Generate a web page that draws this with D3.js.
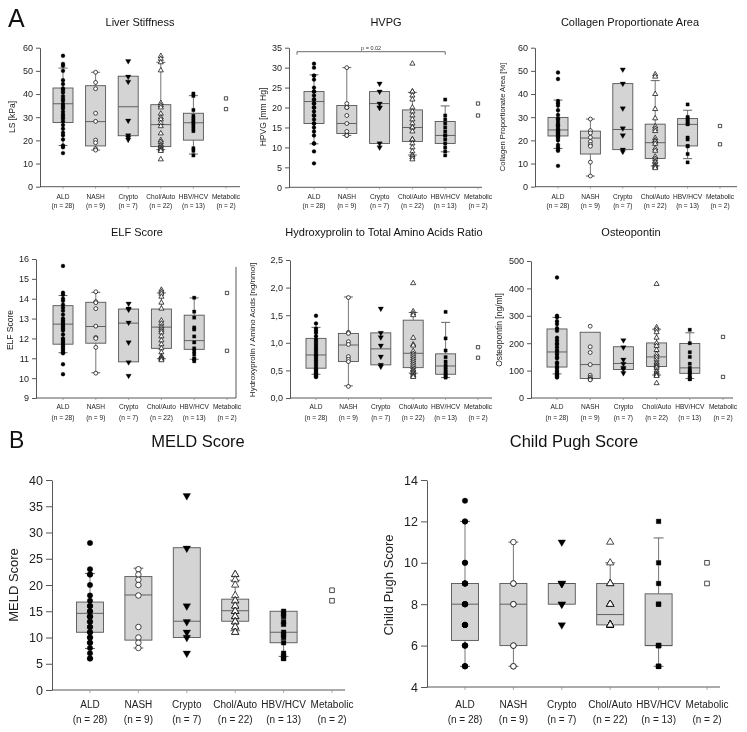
<!DOCTYPE html>
<html><head><meta charset="utf-8">
<script src="https://cdn.jsdelivr.net/npm/d3@7"></script>
<style>body{margin:0;background:#fff}svg{display:block;font-family:"Liberation Sans",Arial,sans-serif;will-change:transform}svg text{-webkit-font-smoothing:antialiased}</style>
</head><body><svg id="c" width="747" height="732"></svg>
<script>
const groups = ["ALD","NASH","Crypto","Chol/Auto","HBV/HCV","Metabolic"];
const groupN = ["(n = 28)","(n = 9)","(n = 7)","(n = 22)","(n = 13)","(n = 2)"];

// ---- Liver stiffness [kPa] ----
const lsPoints = [
  [56.5,53,52.2,50,46,44.3,42.4,41.7,40.7,39.1,38,37.1,35.7,34.7,33.8,32.4,31.2,30.2,29.4,28.2,26.6,25,23.3,22.2,20.4,17.8,17,14.5],
  [49.4,45,42.3,31.7,28.2,20.1,19,16.4,15.8],
  [54.2,47.5,45.3,28.5,22.2,21.2,20.3],
  [56.4,55.2,53.7,50.2,36.1,35.1,34.2,31.5,29.9,29.0,27.5,26.1,23.0,20.1,19.3,18.2,17.5,16.8,16.4,15.9,15.4,11.8],
  [40.2,39.2,33.1,30.6,29.4,28.4,27.5,26.4,25.2,24.0,16.6,15.5,13.5],
  [38.1,33.5]
];
// [q1, median, q3, lower whisker, upper whisker]
const lsBox = [[27.7,35.8,42.6,17.8,51.2],[17.6,28.1,43.6,15.8,49.4],[22.0,34.5,47.7,null,null],[17.3,26.8,35.4,16.0,53.7],[20.1,27.6,31.7,14.1,39.3],null];
const lsTicks = [0,10,20,30,40,50,60];

// ---- HVPG [mm Hg] ----
const hvpgPoints = [
  [31,30,28,28,27,25,24,24,23,22,22,21,21,20,20,19,18,18,17,16,16,15,14,13,11,11,9,6],
  [30,21,20,20,18,16,14,13,13],
  [26,24,21,20,20,11,10],
  [31,24,24,23,22,20,19,18,17,16,15,15,14,12,12,11,10,9,8,8,7.5,7],
  [22,18,17,16,15,14,13,13,12,11,10,9,8],
  [21,18]
];
const hvpgBox = [[16,21.5,24,10.9,28.2],[13.5,16,20.5,13,30],[11,21,24,null,null],[11.5,15,19.4,8.1,23.8],[11,13,16.5,8.9,20.4],null];
const hvpgTicks = [0,5,10,15,20,25,30,35];
const hvpgPvalue = "p = 0.02";

// ---- Collagen proportionate area [%] ----
const cpaPoints = [
  [49.3,46.5,37,36,35,33,31,29.5,29,28,27,26.5,26,25,24.5,24,23.5,23,22.5,22,21.5,21,20,18,17,16,15.5,9],
  [29.2,24.2,23.2,21.3,19.5,18.2,17.5,10.6,4.6],
  [50.6,44.5,33.8,25.2,22.2,16,15.1],
  [48.5,47.5,40,33.5,29.5,26,25,24,21,20,19.5,18.5,16.5,15.5,13,12,11,10.5,9.5,9,8.5,8],
  [35.5,30.1,29.6,28.8,28.1,27.2,26.9,21.2,20.4,17.6,17.4,14.1,10.5],
  [26.2,18.3]
];
const cpaBox = [[21.9,24.5,29.9,16.5,37.4],[14.1,21,24,4.6,29.2],[16,24.7,44.5,null,null],[12.2,19,27,9,45.8],[17.6,26.9,29.4,12.1,33],null];
const cpaTicks = [0,10,20,30,40,50,60];

// ---- ELF score ----
const elfPoints = [
  [15.65,14.3,14.2,14.0,13.9,13.7,13.55,13.4,13.2,13.0,12.9,12.8,12.7,12.6,12.5,12.4,12.2,12.0,11.9,11.8,11.7,11.6,11.5,11.4,11.3,11.25,10.7,10.2],
  [14.35,13.85,13.8,13.5,12.62,12.05,12.0,11.55,10.25],
  [13.75,13.5,13.45,12.8,11.8,10.8,10.12],
  [14.45,14.35,14.25,14.1,13.8,13.5,12.9,12.75,12.6,12.5,12.4,12.3,12.1,11.9,11.7,11.5,11.3,11.1,11.05,11.0,10.95,10.9],
  [14.05,13.35,13.05,12.55,12.45,12.1,11.8,11.5,11.35,11.2,11.0,10.95,10.85],
  [14.29,11.38]
];
const elfBox = [[11.71,12.72,13.65,11.28,14.16],[11.76,12.6,13.82,10.27,14.32],[10.82,12.77,13.48,null,null],[11.5,12.57,13.48,10.98,14.29],[11.45,11.89,13.17,10.95,14.04],null];
const elfTicks = [9,10,11,12,13,14,15,16];

// ---- Hydroxyprolin / amino acids [ng/nmol] ----
const hypPoints = [
  [1.49,1.35,1.26,1.22,1.18,1.12,1.06,1.02,0.98,0.94,0.9,0.86,0.82,0.78,0.76,0.72,0.68,0.64,0.6,0.56,0.52,0.5,0.47,0.45,0.43,0.41,0.39,0.38],
  [1.82,1.19,1.17,1.02,0.97,0.75,0.7,0.66,0.21],
  [1.62,1.18,1.1,0.95,0.75,0.6,0.57],
  [2.08,1.57,1.53,1.5,1.09,0.97,0.95,0.85,0.8,0.76,0.72,0.68,0.64,0.6,0.56,0.52,0.5,0.47,0.45,0.42,0.4,0.38],
  [1.56,1.08,0.86,0.74,0.66,0.6,0.56,0.52,0.48,0.45,0.42,0.39,0.37],
  [0.92,0.73]
];
const hypBox = [[0.54,0.78,1.08,0.43,1.28],[0.66,0.96,1.17,0.22,1.83],[0.6,0.89,1.18,null,null],[0.55,0.81,1.41,0.45,1.55],[0.43,0.58,0.8,0.37,1.37],null];
const hypTicks = [0,0.5,1,1.5,2,2.5];

// ---- Osteopontin [ng/ml] ----
const optPoints = [
  [440,300,295,280,270,255,245,220,210,200,195,185,175,168,160,150,145,130,125,115,108,100,95,90,85,82,78,75],
  [262,187,166,122,83,76,71,68,66],
  [211,185,140,125,110,105,91],
  [416,258,250,240,220,200,190,175,160,150,140,130,125,118,115,110,100,95,88,84,80,54],
  [249,200,167,150,125,110,100,95,90,80,75,70,68],
  [223,77]
];
const optBox = [[113,168,252,88,294],[71,122,240,null,null],[104,126,187,null,null],[115,150,201,84,251],[90,110,199,71,238],null];
const optTicks = [0,100,200,300,400,500];

// ---- MELD score ----
const meldPoints = [
  [28,23,22,22,20,18,17,16,16,15,15,14,14,14,13,13,12,12,11,11,10,10,9,9,8,7,6,6],
  [23,22,21,20,18,12,10,9,8],
  [37,27,16,13,11,10,7],
  [22,22,21,20,18,17,17,16,16,15,15,15,14,14,14,13,13,13,12,12,11,11],
  [15,14.5,14,13,12.5,11,10.5,10,9,7,6.5,6,6],
  [19,17]
];
const meldBox = [[11,14.6,16.75,7.9,22.2],[9.5,18.1,21.6,8,23.2],[10,13.1,27.1,null,null],[13.1,15.1,17.3,11.3,20.9],[9,11,15,6.4,null],null];
const meldTicks = [0,5,10,15,20,25,30,35,40];

// ---- Child Pugh score ----
const cpPoints = [
  [13,12,12,10,10,9,9,9,9,9,8,8,8,8,8,8,7,7,7,7,6,6,6,6,5,5,5,5],
  [11,9,9,8,8,6,6,5,5],
  [11,9,9,9,8,8,7],
  [11,10,9,9,9,8,8,8,8,8,8,7,7,7,7,7,7,7,7,7,7,7],
  [12,10,9,8,8,6,6,6,6,5,5,5,5],
  [10,9]
];
const cpBox = [[6.25,8,9,5,12],[6,8,9,5,11],[8,9,9,null,null],[7,7.5,9,null,10],[6,6,8.5,5,11.2],null];
const cpTicks = [4,6,8,10,12,14];

// ---------------- drawing ----------------
const svg = d3.select("#c");
const FONT = '"Liberation Sans", Arial, sans-serif';
const markerKind = ["circle","circle","down","up","square","square"];
const markerFill = [true,false,true,false,true,false];

function markerPath(kind, size){
  if(kind==="circle") return d3.symbol(d3.symbolCircle, size)();
  if(kind==="square") return d3.symbol(d3.symbolSquare, size*0.9)();
  if(kind==="up") return d3.symbol(d3.symbolTriangle, size*0.95)();
  return d3.symbol(d3.symbolTriangle, size*1.05)();
}

function panel(o){
  const g = svg.append("g");
  const y = d3.scaleLinear().domain(o.domain).range([o.bottom, o.top]);
  const x = d3.scalePoint().domain(groups).range([o.x0, o.x0 + 5*o.step]);

  groups.forEach((grp,i)=>{
    const b = o.boxes[i]; if(!b) return;
    const [q1,med,q3,wlo,whi] = b, cx = x(grp);
    const wl = (v1,v2)=>{
      g.append("line").attr("x1",cx).attr("x2",cx).attr("y1",y(v1)).attr("y2",y(v2))
        .attr("stroke","#666").attr("stroke-width",0.9);
      g.append("line").attr("x1",cx-o.cap/2).attr("x2",cx+o.cap/2).attr("y1",y(v2)).attr("y2",y(v2))
        .attr("stroke","#555").attr("stroke-width",0.9);
    };
    if(whi!=null) wl(q3,whi);
    if(wlo!=null) wl(q1,wlo);
    g.append("rect").attr("x",cx-o.bw/2).attr("y",y(q3)).attr("width",o.bw).attr("height",y(q1)-y(q3))
      .attr("fill","#d4d4d4").attr("stroke","#555").attr("stroke-width",0.9);
    g.append("line").attr("x1",cx-o.bw/2).attr("x2",cx+o.bw/2).attr("y1",y(med)).attr("y2",y(med))
      .attr("stroke","#555").attr("stroke-width",0.9);
  });

  groups.forEach((grp,i)=>{
    const kind = markerKind[i], filled = markerFill[i];
    const d = markerPath(kind, o.ms);
    g.selectAll(null).data(o.points[i]).enter().append("path")
      .attr("d", d)
      .attr("transform", v=>`translate(${x(grp)},${y(v)})` + (kind==="down"?" rotate(180)":""))
      .attr("fill", filled?"#000":"#fff")
      .attr("stroke","#000").attr("stroke-width", filled?0.3:0.7);
  });

  const ax = g.append("g").attr("transform",`translate(${o.left},0)`)
    .call(d3.axisLeft(y).tickValues(o.ticks).tickSize(o.tl).tickSizeOuter(0).tickPadding(3).tickFormat(o.fmt||d3.format("d")));
  ax.attr("font-family",FONT).attr("font-size",o.tf);
  ax.selectAll("path,line").attr("stroke","#444").attr("stroke-width",0.9);
  ax.selectAll("text").attr("fill","#222");

  g.append("line").attr("x1",o.left).attr("x2",o.right).attr("y1",o.bottom).attr("y2",o.bottom)
    .attr("stroke","#444").attr("stroke-width",0.9);
  groups.forEach((grp,i)=>{
    g.append("line").attr("x1",x(grp)).attr("x2",x(grp)).attr("y1",o.bottom).attr("y2",o.bottom+o.xtl)
      .attr("stroke","#888").attr("stroke-width",0.7);
    g.append("text").attr("x",x(grp)).attr("y",o.c1).attr("text-anchor","middle")
      .attr("font-size",o.cf).attr("fill","#222").attr("font-family",FONT).text(grp);
    g.append("text").attr("x",x(grp)).attr("y",o.c2).attr("text-anchor","middle")
      .attr("font-size",o.cf).attr("fill","#222").attr("font-family",FONT).text(groupN[i]);
  });

  g.append("text").attr("x",o.titleX).attr("y",o.titleY).attr("text-anchor","middle")
    .attr("font-size",o.titleF).attr("fill","#111").attr("font-family",FONT).text(o.title);
  g.append("text").attr("transform",`translate(${o.ytX},${o.ytY}) rotate(-90)`).attr("text-anchor","middle")
    .attr("font-size",o.ytF).attr("fill","#222").attr("font-family",FONT).text(o.ytitle);
  return {g,x,y};
}

const topRow = {tl:4, tf:9, cf:6.6, ms:12, bw:20, cap:9, xtl:2};
const botRow = {tl:6, tf:12.5, cf:10, ms:24, bw:27, cap:10, xtl:3};

panel(Object.assign({}, topRow, {points:lsPoints, boxes:lsBox, ticks:lsTicks, domain:[0,60],
  left:40, right:240, top:47.7, bottom:186.7, x0:63, step:32.6, c1:199, c2:208,
  title:"Liver Stiffness", titleX:140, titleY:26, titleF:11, ytitle:"LS [kPa]", ytX:15, ytY:117, ytF:8.5}));

const hv = panel(Object.assign({}, topRow, {points:hvpgPoints, boxes:hvpgBox, ticks:hvpgTicks, domain:[0,35],
  left:289, right:482, top:47.7, bottom:187.3, x0:314, step:32.8, c1:199, c2:208,
  title:"HVPG", titleX:386, titleY:26, titleF:11, ytitle:"HPVG [mm Hg]", ytX:266, ytY:117, ytF:8.5}));
{
  const yb = hv.y(34), xl = hv.x("ALD")-17, xr = hv.x("HBV/HCV");
  hv.g.append("path").attr("d",`M${xl},${yb+3}V${yb}H${xr}V${yb+3}`).attr("fill","none").attr("stroke","#444").attr("stroke-width",0.8);
  hv.g.append("text").attr("x",(xl+xr)/2).attr("y",yb-2).attr("text-anchor","middle").attr("font-size",5.5)
    .attr("fill","#333").attr("font-family",FONT).text(hvpgPvalue);
}

panel(Object.assign({}, topRow, {points:cpaPoints, boxes:cpaBox, ticks:cpaTicks, domain:[0,60],
  left:535, right:737, top:47.7, bottom:186.7, x0:558, step:32.4, c1:199, c2:208,
  title:"Collagen Proportionate Area", titleX:630, titleY:26, titleF:11, ytitle:"Collagen Proportionate Area [%]", ytX:505, ytY:117, ytF:7.6}));

const elf = panel(Object.assign({}, topRow, {points:elfPoints, boxes:elfBox, ticks:elfTicks, domain:[9,16],
  left:36, right:236, top:259, bottom:398, x0:63, step:32.8, c1:409, c2:420,
  title:"ELF Score", titleX:137, titleY:236, titleF:11, ytitle:"ELF Score", ytX:13, ytY:330, ytF:8.5}));
elf.g.append("line").attr("x1",236).attr("x2",236).attr("y1",elf.y(15.6)).attr("y2",398).attr("stroke","#444").attr("stroke-width",0.9);

panel(Object.assign({}, topRow, {points:hypPoints, boxes:hypBox, ticks:hypTicks, domain:[0,2.5], fmt:v=>d3.format(".1f")(v).replace(".",","),
  left:290, right:492, top:260, bottom:398, x0:316, step:32.4, c1:409, c2:420,
  title:"Hydroxyprolin to Total Amino Acids Ratio", titleX:384, titleY:236, titleF:11, ytitle:"Hydroxyprolin / Amino Acids [ng/nmol]", ytX:255, ytY:330, ytF:8}));

panel(Object.assign({}, topRow, {points:optPoints, boxes:optBox, ticks:optTicks, domain:[0,500],
  left:531, right:733, top:261, bottom:398, x0:557, step:33.2, c1:409, c2:420,
  title:"Osteopontin", titleX:631, titleY:236, titleF:11, ytitle:"Osteopontin [ng/ml]", ytX:502, ytY:330, ytF:8.5}));

panel(Object.assign({}, botRow, {points:meldPoints, boxes:meldBox, ticks:meldTicks, domain:[0,40],
  left:52, right:345, top:480, bottom:690, x0:90, step:48.4, c1:708, c2:723,
  title:"MELD Score", titleX:198, titleY:447, titleF:16.5, ytitle:"MELD Score", ytX:18, ytY:585, ytF:13}));

panel(Object.assign({}, botRow, {points:cpPoints, boxes:cpBox, ticks:cpTicks, domain:[4,14],
  left:427, right:720, top:480, bottom:687, x0:465, step:48.4, c1:708, c2:723,
  title:"Child Pugh Score", titleX:574, titleY:447, titleF:16.5, ytitle:"Child Pugh Score", ytX:393, ytY:585, ytF:13}));

svg.append("text").attr("x",8).attr("y",27).attr("font-size",25).attr("font-family",FONT).attr("fill","#111").text("A");
svg.append("text").attr("x",9).attr("y",448).attr("font-size",23).attr("font-family",FONT).attr("fill","#111").text("B");
</script></body></html>
